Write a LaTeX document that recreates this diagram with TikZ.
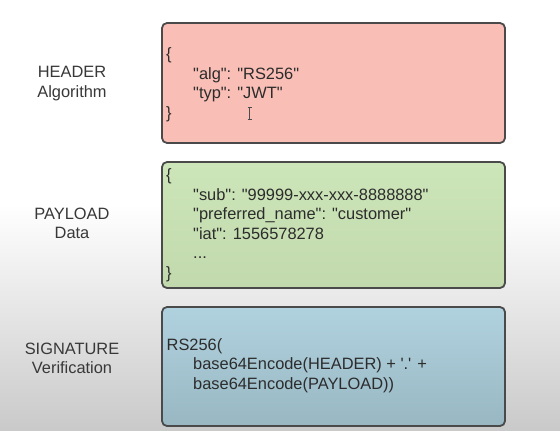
\documentclass[tikz,border=0pt]{standalone}
\usepackage{fontspec}
\newfontfamily\lsans{Liberation Sans}
\begin{document}
\begin{tikzpicture}[x=1pt,y=-1pt,
  font=\lsans\fontsize{16.4}{19.5}\selectfont,
  section/.style={draw=boxline, line width=1.8pt, rounded corners=5pt,
    anchor=north west, minimum width=343pt, inner sep=0pt, outer sep=0pt},
  label/.style={text=labeltext, align=center, anchor=base, inner sep=0pt},
  code/.style={text=codetext, anchor=base west, inner sep=0pt}]
\definecolor{boxline}{HTML}{4A4A4A}
\definecolor{labeltext}{HTML}{383838}
\definecolor{codetext}{HTML}{2C2C2C}
\definecolor{hdrfill}{HTML}{F9BEB5}
\definecolor{payfillA}{HTML}{CDE6B9}
\definecolor{payfillB}{HTML}{C1D9AD}
\definecolor{sigfillA}{HTML}{B0D2DE}
\definecolor{sigfillB}{HTML}{98B7C3}
\useasboundingbox (0,0) rectangle (560,431);
% backdrop: white, greying towards the bottom
\fill[white] (0,0) rectangle (560,205);
\shade[top color=white, bottom color=black!21] (0,204) rectangle (560,431);

% section boxes
\node[section, fill=hdrfill, minimum height=120pt] (header) at (162,23) {};
\node[section, top color=payfillA, bottom color=payfillB, minimum height=126pt] (payload) at (162,162) {};
\node[section, top color=sigfillA, bottom color=sigfillB, minimum height=119pt] (signature) at (162,307) {};

% section titles
\node[label] (hdrname) at (72,77.5) {HEADER};
\node[label] (hdrsub) at (72,97) {Algorithm};
\node[label] (payname) at (72,219) {PAYLOAD};
\node[label] (paysub) at (72,238.5) {Data};
\node[label] (signame) at (72,354) {SIGNATURE};
\node[label] (sigsub) at (72,373.5) {Verification};

% header contents
\node[code] (h1) at (166,59.5) {\{};
\node[code] (h2) at (193,79) {"alg": "RS256"};
\node[code] (h3) at (193,98.5) {"typ": "JWT"};
\node[code] (h4) at (166,118) {\}};

% payload contents
\node[code] (p1) at (166,180.5) {\{};
\node[code] (p2) at (193,200) {"sub": "99999-xxx-xxx-8888888"};
\node[code] (p3) at (193,219.5) {"preferred\_name": "customer"};
\node[code] (p4) at (193,239) {"iat": 1556578278};
\node[code] (p5) at (193,258.5) {...};
\node[code] (p6) at (166,278) {\}};

% signature contents
\node[code] (s1) at (166.5,350) {RS256(};
\node[code] (s2) at (193,369.5) {base64Encode(HEADER) + '.' +};
\node[code] (s3) at (193,389) {base64Encode(PAYLOAD))};

% text cursor
\draw[white, line width=1.6pt] (249.5,108) -- (249.5,119);
\draw[black!70, line width=0.7pt] (247.5,107.5) -- (251.5,107.5)
  (249.5,107.5) -- (249.5,119.5) (247.5,119.5) -- (251.5,119.5);
\end{tikzpicture}
\end{document}
